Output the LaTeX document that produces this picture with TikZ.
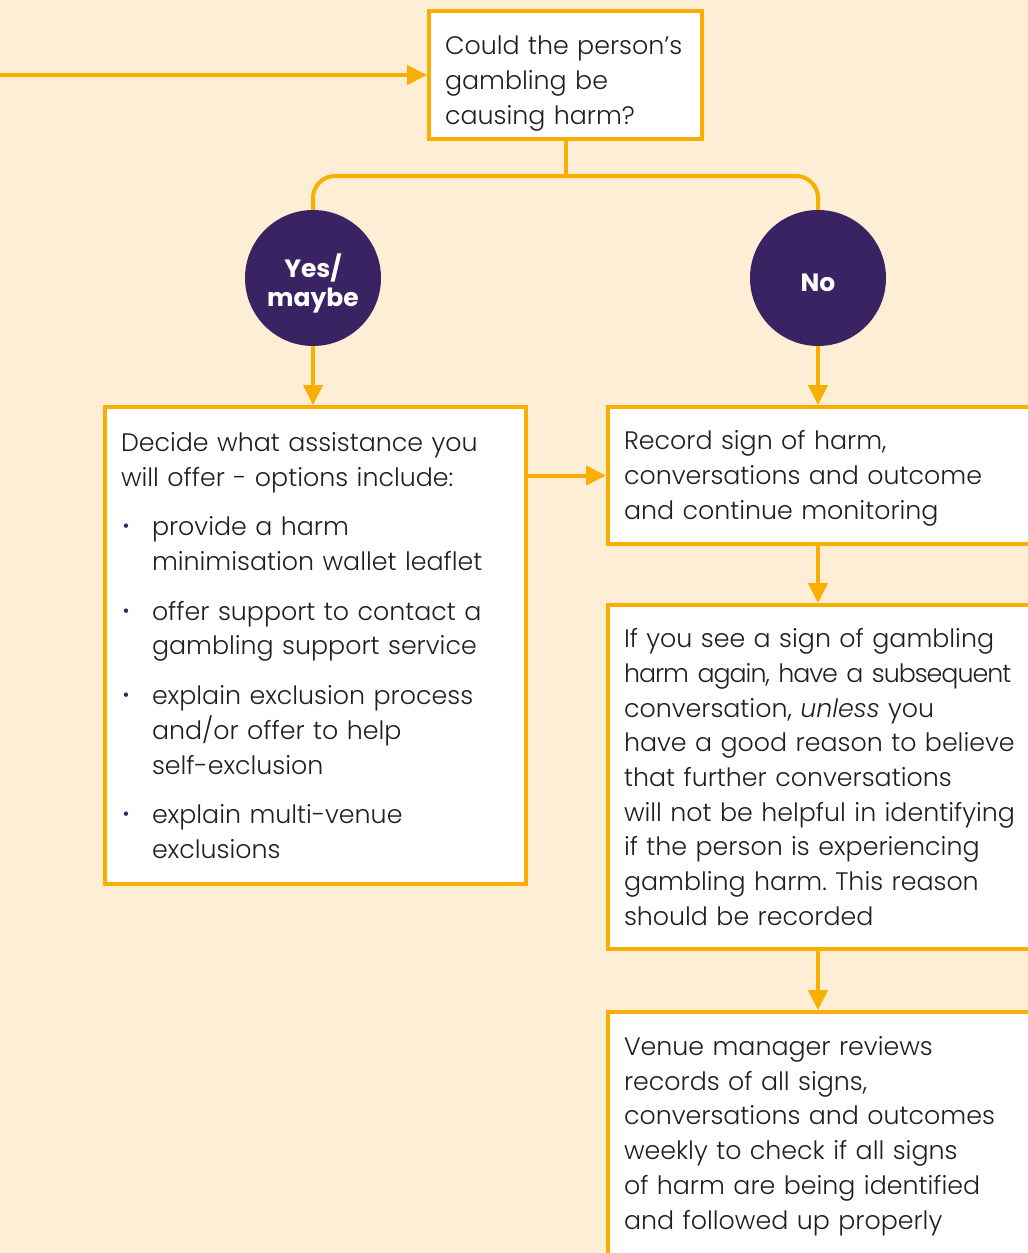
\documentclass[tikz,border=0pt]{standalone}
\usepackage{fontspec}
\IfFontExistsTF{Poppins Light}{%
  \IfFontExistsTF{Poppins Light Italic}{%
    \setmainfont{Poppins Light}[BoldFont=Poppins Bold, ItalicFont=Poppins Light Italic]}{%
    \setmainfont{Poppins Light}[BoldFont=Poppins Bold]}}{%
  \setmainfont{Poppins}}
\usetikzlibrary{arrows.meta}
\frenchspacing

\definecolor{bg}{HTML}{FEEED5}
\definecolor{flow}{HTML}{F9AE00}
\definecolor{plum}{HTML}{3A2363}
\definecolor{ink}{HTML}{1F1F1F}

\newcommand\bodyfont{\fontsize{25.3}{34.7}\selectfont}
\newcommand\answerfont{\fontsize{25}{29}\selectfont\bfseries}
% one bulleted option: a small dot, then its text with a hanging indent
\newcommand\optionitem{\par\vspace{15pt}\hangindent=31pt\hangafter=1\noindent
  \makebox[31pt][l]{\hspace{1.5pt}\raisebox{3pt}{\textcolor{plum}{\fontsize{19}{19}\selectfont •}}}}
% taller first line, to push a block of text down in its box
\newcommand\toppad[1]{\rule{0pt}{#1}}
% a line set slightly tighter
\newcommand\tight[1]{{\addfontfeature{LetterSpace=-4}#1}}

\tikzset{
  box/.style={draw=flow, line width=4pt, fill=white, inner xsep=16pt, inner ysep=0pt,
    align=left, font=\bodyfont, text=ink},
  answer/.style={circle, fill=plum, minimum size=136pt, inner sep=0pt},
  answertext/.style={text=white, font=\answerfont, align=center, inner sep=0pt},
  link/.style={draw=flow, line width=4pt, -{Triangle[length=20pt,width=19pt]}},
  plainlink/.style={draw=flow, line width=4pt},
}

\begin{document}
\begin{tikzpicture}[x=1pt, y=-1pt]
  \useasboundingbox (0,0) rectangle (1028,1253);
  \clip (0,0) rectangle (1028,1253);
  \fill[bg] (0,0) rectangle (1028,1253);

  % question
  \node[box, text width=241pt, minimum height=128pt] (q) at (565.5,75)
    {\toppad{36pt}Could the person’s\\gambling be\\causing harm?};
  \coordinate (feed) at (-10,75);

  % answers
  \node[answer] (yes) at (313,278) {};
  \node[answer] (no) at (818,278) {};
  \node[answertext] (yestext) at ([yshift=-5pt]yes.center) {Yes/\\maybe};
  \node[answertext] (notext) at ([yshift=-5pt]no.center) {No};

  % assistance options
  \node[box, text width=389pt, minimum height=477pt] (help) at (315.5,645.5)
    {Decide what assistance you\\will offer - options include:%
     \optionitem provide a harm\newline minimisation wallet leaflet%
     \optionitem offer support to contact a\newline gambling support service%
     \optionitem explain exclusion process\newline and/or offer to help\newline self-exclusion%
     \optionitem explain multi-venue\newline exclusions\par};

  % record and monitor
  \node[box, text width=410pt, minimum height=137pt] (record) at (829,475.5)
    {\toppad{25pt}Record sign of harm,\\conversations and outcome\\and continue monitoring};
  \node[box, text width=410pt, minimum height=344pt] (again) at (829,777)
    {If you see a sign of gambling\\\tight{harm again, have a subsequent}\\conversation, \textit{unless} you\\have a good reason to believe\\that further conversations\\will not be helpful in identifying\\if the person is experiencing\\gambling harm. This reason\\should be recorded};
  \node[box, text width=410pt, minimum height=248pt] (review) at (829,1136)
    {Venue manager reviews\\records of all signs,\\conversations and outcomes\\weekly to check if all signs\\of harm are being identified\\and followed up properly};

  % connectors
  \coordinate (split) at (q.south |- 0,176);
  \draw[link] (feed) -- (q.west);
  \draw[plainlink] (q.south) -- (split);
  \draw[plainlink, rounded corners=22pt] (yes.north) |- (split) -| (no.north);
  \draw[link] (yes.south) -- (help.north -| yes);
  \draw[link] (no.south) -- (record.north -| no);
  \draw[link] (help.east |- record) -- (record.west);
  \draw[link] (record.south -| no) -- (again.north -| no);
  \draw[link] (again.south -| no) -- (review.north -| no);
\end{tikzpicture}
\end{document}
